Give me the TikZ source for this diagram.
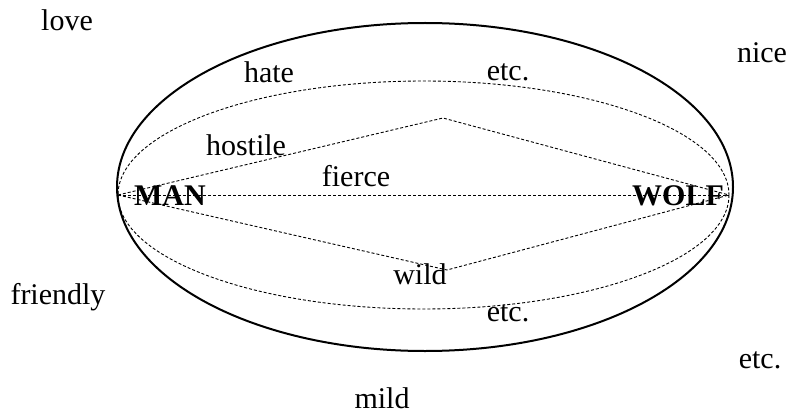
\documentclass[tikz,border=0pt]{standalone}
\usepackage{fontspec}
\setmainfont{Liberation Serif}
\begin{document}
\begin{tikzpicture}[x=1pt,y=-1pt,
  lbl/.style={font=\fontsize{30}{32}\selectfont, inner sep=0pt},
  endlbl/.style={font=\fontsize{30}{32}\selectfont\bfseries, inner sep=0pt},
  outer/.style={line width=2pt},
  dsh/.style={line width=0.9pt, dash pattern=on 3pt off 2pt}]
\useasboundingbox (0,0) rectangle (792,417);
% outer ellipse
\draw[outer] (425,187) ellipse [x radius=308, y radius=164];
% inner dashed ellipse
\draw[dsh] (423.5,195) ellipse [x radius=305.5, y radius=114];
% points
\coordinate (m) at (118,195);
\coordinate (w) at (729,195);
\coordinate (pt) at (443,118);
\coordinate (pb) at (447,270);
\draw[dsh] (m) -- (pt) -- (w);
\draw[dsh] (m) -- (pb) -- (w);
\draw[dsh] (m) -- (w);
% labels
\node[endlbl] (man) at (170,196) {MAN};
\node[endlbl] (wolf) at (678,196) {WOLF};
\node[lbl] (love) at (67,20) {love};
\node[lbl] (nice) at (762,53) {nice};
\node[lbl] (friendly) at (58,297) {friendly};
\node[lbl] (etc3) at (760,360) {etc.};
\node[lbl] (mild) at (382,398) {mild};
\node[lbl] (hate) at (269,72) {hate};
\node[lbl] (etc1) at (508,72) {etc.};
\node[lbl] (hostile) at (246,145) {hostile};
\node[lbl] (fierce) at (356,176) {fierce};
\node[lbl] (wild) at (420,274) {wild};
\node[lbl] (etc2) at (508,313) {etc.};
\end{tikzpicture}
\end{document}
